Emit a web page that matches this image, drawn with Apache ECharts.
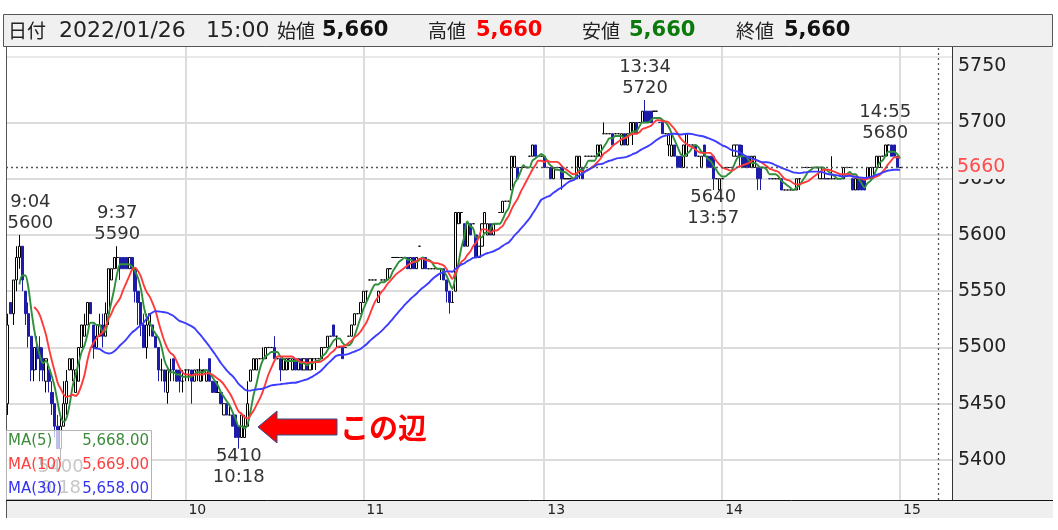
<!DOCTYPE html>
<html><head><meta charset="utf-8">
<script src="https://cdn.jsdelivr.net/npm/echarts@6/dist/echarts.min.js"></script>
<style>html,body{margin:0;padding:0;background:#fff}#c{width:1058px;height:530px}</style>
</head><body><div id="c"></div>
<script>
// ---------- data ----------
const tradeDate = '2022/01/26';
const lastTime = '15:00';
// 1-minute bars: [open, close, low, high]
const bars = [
// 9:00
[5450,5520,5440,5530],[5540,5530,5530,5540],[5530,5560,5520,5560],[5560,5580,5550,5590],[5580,5590,5570,5600],
[5590,5560,5550,5590],[5550,5530,5520,5550],[5530,5510,5500,5540],[5510,5480,5470,5510],[5480,5500,5470,5500],
// 9:10
[5500,5490,5480,5510],[5500,5480,5470,5510],[5490,5480,5470,5500],[5470,5490,5460,5490],[5480,5470,5460,5480],
[5460,5450,5440,5470],[5450,5430,5420,5450],[5430,5410,5410,5440],[5410,5430,5400,5440],[5430,5450,5430,5470],
// 9:20
[5450,5470,5440,5480],[5480,5490,5480,5490],[5480,5490,5470,5490],[5460,5480,5460,5480],[5470,5500,5470,5500],
[5500,5520,5500,5520],[5510,5520,5510,5530],[5520,5540,5520,5540],[5540,5530,5530,5540],[5520,5500,5490,5520],
// 9:30
[5500,5510,5500,5520],[5510,5520,5510,5530],[5520,5510,5500,5530],[5510,5530,5510,5540],[5530,5570,5520,5570],
[5560,5570,5560,5570],[5570,5580,5570,5580],[5580,5580,5570,5590],[5580,5570,5560,5580],[5580,5570,5570,5580],
// 9:40
[5580,5570,5570,5580],[5570,5580,5570,5580],[5580,5570,5570,5580],[5570,5550,5540,5570],[5550,5540,5520,5550],
[5540,5520,5510,5540],[5520,5500,5500,5530],[5500,5520,5490,5530],[5520,5530,5510,5530],[5520,5510,5510,5520],
// 9:50
[5510,5500,5500,5510],[5500,5480,5470,5500],[5480,5480,5470,5490],[5480,5470,5460,5480],[5460,5480,5450,5480],
[5480,5480,5470,5490],[5490,5480,5470,5490],[5480,5470,5470,5480],[5480,5470,5460,5480],[5470,5470,5460,5480],
// 10:00
[5480,5480,5470,5480],[5480,5480,5470,5480],[5480,5470,5450,5480],[5470,5480,5470,5480],[5480,5480,5470,5480],
[5470,5480,5470,5490],[5480,5480,5470,5480],[5470,5480,5470,5480],[5490,5470,5470,5490],[5470,5460,5460,5470],
// 10:10
[5470,5460,5460,5470],[5460,5460,5460,5470],[5460,5450,5450,5460],[5440,5450,5440,5450],[5450,5440,5440,5450],
[5440,5440,5440,5450],[5440,5430,5430,5440],[5440,5420,5420,5440],[5430,5420,5410,5430],[5420,5440,5420,5440],
// 10:20
[5420,5430,5420,5440],[5430,5450,5430,5470],[5470,5480,5470,5480],[5480,5490,5480,5490],[5480,5490,5480,5490],
[5490,5490,5490,5490],[5490,5490,5490,5500],[5490,5500,5490,5500],[5500,5500,5500,5500],[5500,5500,5500,5500],
// 10:30
[5500,5490,5490,5510],[5490,5490,5490,5490],[5490,5480,5470,5490],[5480,5490,5480,5490],[5480,5490,5480,5490],
[5490,5490,5480,5490],[5480,5490,5480,5490],[5490,5480,5480,5490],[5480,5490,5480,5490],[5490,5480,5480,5490],
// 10:40
[5480,5490,5480,5490],[5490,5480,5480,5490],[5480,5490,5480,5490],[5490,5490,5480,5490],[5490,5490,5480,5490],
[5490,5490,5490,5490],[5490,5500,5490,5500],[5500,5500,5500,5500],[5500,5510,5500,5510],[5510,5510,5510,5510],
// 10:50
[5520,5510,5510,5520],[5510,5510,5500,5510],[5500,5500,5500,5500],[5500,5490,5490,5500],[5500,5500,5500,5500],
[5510,5510,5510,5510],[5510,5520,5510,5520],[5520,5530,5520,5530],[5530,5530,5530,5530],[5530,5540,5530,5540],
// 11:00
[5540,5550,5540,5550],[5550,5550,5540,5550],[5560,5560,5560,5560],[5560,5560,5560,5560],[5560,5560,5560,5560],
[5540,5550,5540,5550],[5560,5560,5560,5560],[5560,5560,5560,5560],[5560,5570,5560,5570],[5570,5570,5570,5570],
// 11:10
[5580,5580,5580,5580],[5580,5580,5580,5580],[5580,5580,5580,5580],[5580,5580,5580,5580],[5580,5580,5580,5580],
[5580,5570,5570,5580],[5570,5580,5570,5580],[5580,5570,5570,5580],[5570,5580,5570,5580],[5590,5590,5590,5590],
// 11:20
[5570,5580,5570,5580],[5580,5570,5570,5580],[5570,5570,5570,5570],[5570,5570,5570,5570],[5570,5570,5570,5570],
[5570,5570,5570,5570],[5570,5570,5560,5570],[5570,5560,5560,5570],[5560,5550,5540,5560],[5550,5540,5530,5550],
// 11:30
[5540,5540,5540,5550],
// 12:30
[5550,5620,5550,5620],[5610,5620,5610,5620],[5620,5620,5610,5620],[5610,5590,5590,5610],[5590,5610,5590,5610],
[5610,5600,5600,5610],[5610,5610,5610,5610],[5600,5580,5580,5600],[5580,5590,5580,5590],[5590,5610,5590,5610],
// 12:40
[5610,5620,5610,5620],[5600,5610,5600,5610],[5610,5600,5600,5610],[5600,5610,5600,5610],[5610,5610,5610,5610],
[5620,5620,5620,5620],[5620,5630,5620,5630],[5630,5630,5630,5630],[5630,5630,5630,5630],[5640,5670,5640,5670],
// 12:50
[5660,5670,5660,5670],[5660,5650,5650,5660],[5660,5660,5660,5660],[5660,5660,5660,5660],[5660,5660,5660,5660],
[5670,5670,5670,5670],[5670,5680,5670,5680],[5680,5670,5670,5680],[5670,5670,5670,5670],[5670,5670,5670,5670],
// 13:00
[5670,5660,5660,5670],[5660,5660,5660,5660],[5660,5650,5650,5660],[5650,5660,5650,5660],[5660,5660,5660,5660],
[5660,5660,5660,5660],[5660,5650,5640,5660],[5650,5650,5650,5650],[5650,5650,5650,5650],[5650,5650,5650,5650],
// 13:10
[5650,5650,5650,5650],[5650,5670,5650,5670],[5660,5670,5650,5670],[5660,5650,5650,5660],[5670,5670,5670,5670],
[5670,5670,5670,5670],[5670,5670,5670,5670],[5670,5670,5670,5670],[5670,5680,5670,5680],[5670,5680,5670,5680],
// 13:20
[5690,5690,5690,5700],[5690,5690,5690,5690],[5690,5690,5690,5690],[5690,5680,5680,5690],[5690,5690,5690,5690],
[5690,5690,5690,5690],[5680,5690,5680,5690],[5690,5680,5680,5690],[5680,5690,5680,5690],[5690,5700,5690,5700],
// 13:30
[5690,5700,5680,5700],[5700,5690,5690,5700],[5700,5700,5700,5700],[5700,5710,5700,5710],[5710,5700,5700,5720],
[5710,5700,5700,5710],[5710,5700,5700,5710],[5710,5710,5710,5710],[5710,5710,5710,5710],[5700,5700,5700,5700],
// 13:40
[5700,5690,5690,5700],[5690,5690,5690,5690],[5680,5690,5670,5690],[5670,5680,5670,5690],[5680,5670,5670,5680],
[5670,5660,5660,5670],[5670,5660,5660,5670],[5660,5680,5660,5680],[5670,5690,5670,5690],[5680,5680,5680,5680],
// 13:50
[5680,5680,5680,5680],[5680,5670,5670,5680],[5670,5670,5670,5670],[5660,5670,5660,5670],[5680,5670,5670,5680],
[5670,5660,5660,5670],[5670,5660,5660,5670],[5670,5650,5640,5670],[5650,5650,5650,5650],[5640,5650,5640,5650],
// 14:00
[5650,5650,5650,5650],[5660,5660,5660,5660],[5660,5660,5660,5660],[5660,5660,5660,5660],[5670,5680,5670,5680],
[5670,5680,5670,5680],[5680,5670,5660,5680],[5670,5660,5660,5680],[5670,5660,5660,5670],[5670,5660,5660,5670],
// 14:10
[5660,5670,5660,5670],[5660,5670,5660,5670],[5660,5650,5640,5660],[5660,5650,5640,5660],[5660,5660,5660,5660],
[5660,5660,5660,5660],[5650,5650,5650,5650],[5650,5650,5650,5650],[5650,5650,5650,5650],[5650,5650,5650,5650],
// 14:20
[5650,5640,5640,5650],[5640,5640,5640,5640],[5640,5640,5640,5640],[5640,5640,5640,5640],[5640,5640,5640,5640],
[5640,5650,5640,5650],[5650,5650,5640,5650],[5660,5660,5660,5660],[5660,5660,5660,5660],[5660,5660,5660,5660],
// 14:30
[5660,5660,5660,5660],[5660,5660,5660,5660],[5660,5660,5660,5660],[5650,5660,5650,5660],[5650,5660,5650,5660],
[5650,5650,5650,5650],[5650,5650,5650,5650],[5650,5650,5650,5670],[5650,5650,5650,5650],[5650,5650,5650,5650],
// 14:40
[5650,5650,5650,5650],[5650,5660,5650,5660],[5660,5660,5660,5660],[5660,5660,5660,5660],[5650,5640,5640,5650],
[5640,5650,5640,5650],[5650,5640,5640,5650],[5650,5640,5640,5650],[5650,5640,5640,5650],[5650,5660,5650,5660],
// 14:50
[5650,5660,5650,5660],[5660,5660,5650,5660],[5660,5670,5660,5670],[5660,5670,5660,5670],[5670,5670,5670,5670],
[5670,5680,5670,5680],[5680,5680,5670,5680],[5680,5670,5670,5680],[5680,5670,5670,5680],[5670,5660,5660,5670],
// 15:00
[5660,5660,5660,5660]
];
const hourTicks = ['10:00','11:00','13:00','14:00','15:00'];
const priceGrid = [5400,5450,5500,5550,5600,5650,5700];
const priceLabels = [5400,5450,5500,5550,5600,5650,5700,5750];
const topInnerLine = 5758;
const peakTimes = ['9:04','9:37','13:34','14:55'];
const peakValues = [5600,5590,5720,5680];
const troughTimes = ['9:18','10:18','13:57'];
const troughValues = [5400,5410,5640];
const maPeriods = [5,10,30];
const maColors = ['#2f8f3a','#ff3a3a','#3d3dff'];
const maTextColors = ['#3c8c3c','#ff4040','#3434f0'];
const currentPrice = 5660;
const cursorTime = '15:13';
const priceRange = [5364.4, 5767.1];
const peakLabelDx = [11,0,0,0];

// ---------- derived ----------
function buildTimes(){
  const t=[];
  const add=m=>t.push(Math.floor(m/60)+':'+String(m%60).padStart(2,'0'));
  for(let m=9*60;m<=11*60+30;m++) add(m);
  for(let m=12*60+30;m<=15*60+17;m++) add(m);
  return t;
}
const times = buildTimes();
const closes = bars.map(b=>b[1]);
function ma(n){
  return closes.map((_,i)=>{
    if(i<n-1) return '-';
    let s=0; for(let k=i-n+1;k<=i;k++) s+=closes[k];
    return +(s/n).toFixed(2);
  });
}
const maSeries = maPeriods.map(ma);
const last = bars[bars.length-1];
const fmt = v => v.toLocaleString('en-US');
const fmt2 = v => v.toLocaleString('en-US',{minimumFractionDigits:2,maximumFractionDigits:2});

const FONT = '"DejaVu Sans","Noto Sans CJK JP",sans-serif';
const JFONT = '"Noto Sans CJK JP","DejaVu Sans",sans-serif';

const chart = echarts.init(document.getElementById('c'), null, {renderer:'canvas'});

const gridMarks = [
  ...priceLabels.map(v=>({yAxis:v, label:{show:true, formatter:String(v)},
      lineStyle: priceGrid.includes(v)?{}:{color:'rgba(0,0,0,0)'}})),
  {yAxis: topInnerLine, label:{show:false}, lineStyle:{color:'#e2e2e2', width:1.5}},
  ...hourTicks.map(t=>({xAxis:t, label:{show:false}}))
];

const markPointData = [
  ...peakTimes.map((t,k)=>({coord:[t,peakValues[k]],
    label:{position:'top', distance:1, offset:[peakLabelDx[k],0], formatter:t+'\n'+peakValues[k]}})),
  ...troughTimes.map((t,k)=>({coord:[t,troughValues[k]],
    label:{position:'bottom', distance:0, offset:[0,-3], formatter:troughValues[k]+'\n'+t}}))
];

// header
const hdr = [
  {t:'日付', x:8, f:'19px '+JFONT, c:'#222'},
  {t:tradeDate, x:59, f:'22px '+FONT, c:'#222'},
  {t:lastTime, x:206, f:'22px '+FONT, c:'#222'},
  {t:'始値', x:277, f:'19px '+JFONT, c:'#222'},
  {t:fmt(last[0]), x:322, f:'bold 21px '+FONT, c:'#111'},
  {t:'高値', x:428, f:'19px '+JFONT, c:'#222'},
  {t:fmt(last[3]), x:476, f:'bold 21px '+FONT, c:'#ff0000'},
  {t:'安値', x:582, f:'19px '+JFONT, c:'#222'},
  {t:fmt(last[2]), x:629, f:'bold 21px '+FONT, c:'#0a7a0a'},
  {t:'終値', x:736, f:'19px '+JFONT, c:'#222'},
  {t:fmt(last[1]), x:784, f:'bold 21px '+FONT, c:'#111'}
];

const legendEls = [
  {type:'rect', z:100, shape:{x:6.5,y:430.5,width:145,height:69}, style:{fill:'rgba(255,255,255,0.72)', stroke:'#b4b4b4', lineWidth:1}}
];
maPeriods.forEach((p,k)=>{
  const y = 441 + k*24;
  const lastVal = maSeries[k][maSeries[k].length-1];
  legendEls.push({type:'text', z:101, x:8, y:y, style:{text:'MA('+p+')', fill:maTextColors[k], font:'15px '+FONT, align:'left', verticalAlign:'middle'}});
  legendEls.push({type:'text', z:101, x:149, y:y, style:{text:fmt2(lastVal), fill:maTextColors[k], font:'15px '+FONT, align:'right', verticalAlign:'middle'}});
});

const graphics = [
  // panels
  {type:'rect', z:-10, shape:{x:952,y:47,width:101,height:453}, style:{fill:'#efefef'}},
  {type:'rect', z:-10, shape:{x:6,y:500,width:1047,height:18}, style:{fill:'#efefef'}},
  // header
  {type:'rect', z:50, shape:{x:3.5,y:14.5,width:1049,height:32}, style:{fill:'#f0f0f0', stroke:'#555', lineWidth:1}},
  ...hdr.map(h=>({type:'text', z:51, x:h.x, y:31, style:{text:h.t, fill:h.c, font:h.f, align:'left', verticalAlign:'middle'}})),
  // borders
  {type:'line', z:50, shape:{x1:6.5,y1:47,x2:6.5,y2:518}, style:{stroke:'#555', lineWidth:1}},
  {type:'line', z:50, shape:{x1:952.5,y1:47,x2:952.5,y2:500}, style:{stroke:'#333', lineWidth:1}},
  {type:'line', z:50, shape:{x1:6,y1:500.5,x2:1053,y2:500.5}, style:{stroke:'#111', lineWidth:1}},
  // legend
  ...legendEls,
  // callout arrow + text
  {type:'polygon', z:100, shape:{points:[[258,427],[277,411],[277,419],[337,419],[337,435],[277,435],[277,443]]},
    style:{fill:'#ff0000', stroke:'#2f528f', lineWidth:1}},
  {type:'text', z:100, x:340, y:428, style:{text:'この辺', fill:'#ff0000', font:'bold 29px '+JFONT, align:'left', verticalAlign:'middle'}}
];

const option = {
  animation:false,
  backgroundColor:'#ffffff',
  textStyle:{fontFamily:FONT},
  grid:{left:6, right:106, top:47, bottom:30, show:false},
  xAxis:{
    type:'category', data:times, boundaryGap:true, z:10,
    axisLine:{show:false}, axisTick:{show:false}, splitLine:{show:false},
    axisLabel:{
      interval:(idx,val)=>hourTicks.includes(val),
      formatter:v=>v.split(':')[0],
      align:'left', padding:[0,0,0,3], margin:3,
      fontSize:14, color:'#222', fontFamily:FONT
    }
  },
  yAxis:{
    type:'value', position:'right', min:priceRange[0], max:priceRange[1],
    axisLine:{show:false}, axisTick:{show:false}, axisLabel:{show:false}, splitLine:{show:false}
  },
  series:[
    {
      type:'candlestick', name:'price', data:bars, barWidth:2.6, z:2,
      itemStyle:{color:'#ffffff', color0:'#1c1ca8', borderColor:'#000000', borderColor0:'#1c1ca8', borderWidth:1},
      markPoint:{
        symbol:'rect', symbolSize:0, z:5, silent:true,
        itemStyle:{color:'transparent'},
        label:{show:true, color:'#333', fontSize:18, fontFamily:FONT, lineHeight:21},
        data:markPointData
      }
    },
    {
      type:'line', name:'MA(5)', data:maSeries[0], showSymbol:false, smooth:0.3, z:3,
      lineStyle:{color:maColors[0], width:1.9}, itemStyle:{color:maColors[0]}
    },
    {
      type:'line', name:'MA(10)', data:maSeries[1], showSymbol:false, smooth:0.3, z:3, clip:false,
      lineStyle:{color:maColors[1], width:1.9}, itemStyle:{color:maColors[1]},
      markLine:{
        z:6, silent:true, symbol:['none','none'], animation:false,
        lineStyle:{type:[2,3], color:'#555', width:1.3},
        data:[
          {yAxis:currentPrice, label:{show:true, position:'end', distance:5, formatter:String(currentPrice),
            color:'#ff4d4d', backgroundColor:'#efefef', padding:[2,4,2,0], fontSize:19, fontFamily:FONT}},
          {xAxis:cursorTime, label:{show:false}}
        ]
      }
    },
    {
      type:'line', name:'MA(30)', data:maSeries[2], showSymbol:false, smooth:0.3, z:3, clip:false,
      lineStyle:{color:maColors[2], width:1.9}, itemStyle:{color:maColors[2]},
      markLine:{
        z:1, silent:true, symbol:['none','none'], animation:false,
        lineStyle:{type:'solid', color:'#dcdcdc', width:2},
        label:{position:'end', distance:6, color:'#222', fontSize:19, fontFamily:FONT},
        data:gridMarks
      }
    }
  ],
  graphic:graphics
};
chart.setOption(option);
</script>
</body></html>
